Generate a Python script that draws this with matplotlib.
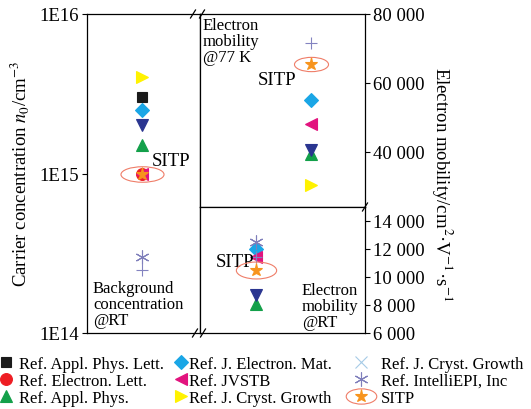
import numpy as np
import matplotlib
matplotlib.use('Agg')
import matplotlib.pyplot as plt
from matplotlib.path import Path
from matplotlib.lines import Line2D
from matplotlib.ticker import FuncFormatter, NullLocator

plt.rcParams['font.family'] = ['Liberation Serif', 'DejaVu Serif']
plt.rcParams['mathtext.fontset'] = 'stix'

nan = np.nan

# one entry per data source (the navy triangle has no legend entry in the source figure)
series_keys = ['apl_lett', 'el_lett', 'appl_phys', 'j_el_mat', 'jvstb',
               'jcg_a', 'jcg_b', 'intelliepi', 'unlisted', 'sitp']
series_labels = ['Ref. Appl. Phys. Lett.', 'Ref. Electron. Lett.', 'Ref. Appl. Phys.',
                 'Ref. J. Electron. Mat.', 'Ref. JVSTB', 'Ref. J. Cryst. Growth',
                 'Ref. J. Cryst. Growth', 'Ref. IntelliEPI, Inc', None, 'SITP']

# carrier concentration n0 (cm^-3), left panel
conc_n0 = [3.0e15, 1.0e15, 1.5e15, 2.5e15, 1.0e15, 4.0e15, 2.5e14, 3.0e14, 2.0e15, 1.0e15]
# electron mobility @77 K (cm^2/V/s), upper right panel
mob_77k = [nan, nan, 39300, 55000, 48000, 30500, 71500, nan, 40400, 65500]
# electron mobility @RT (cm^2/V/s), lower right panel
mob_rt = [nan, nan, 8100, 12000, 11400, nan, 11400, 12500, 8700, 10500]

conc_ticks = [1e14, 1e15, 1e16]
mob77_ticks = [40000, 60000, 80000]
mobrt_ticks = [6000, 8000, 10000, 12000, 14000]

# styles
markers = ['s', 'o', '^', 'D', '<', '>', '+', (6, 2, 0), 'v', '*']
colors = ['#1a1a1a', '#ee1d23', '#13a04a', '#1aa6e6', '#e2137e', '#fff200',
          '#8383c0', '#7f7fbb', '#2a3590', '#f7941d']
sizes = [7, 8.5, 9, 6.8, 9, 9, 8, 10, 9, 9.5]
ring_color = '#ef7d68'

W, H = 531, 410


def fx(px):
    return px / W


def fy(py):
    return 1 - py / H


def ellipse_marker(ratio):
    c = Path.unit_circle()
    return Path(c.vertices * np.array([1.0, ratio]), c.codes)


fig = plt.figure(figsize=(5.31, 4.10), dpi=100)
ax_l = fig.add_axes([fx(87), fy(334), fx(200) - fx(87), fy(15) - fy(334)])
ax_t = fig.add_axes([fx(200), fy(208), fx(365) - fx(200), fy(15) - fy(208)])
ax_b = fig.add_axes([fx(200), fy(334), fx(365) - fx(200), fy(208) - fy(334)])

x_l, x_t, x_b = 0.487, 0.673, 0.34

for i in range(len(series_keys)):
    kw = dict(marker=markers[i], color=colors[i], markersize=sizes[i],
              linestyle='none', markeredgewidth=0.8, zorder=3 + (i == 9))
    ax_l.plot([x_l], [conc_n0[i]], **kw)
    if not np.isnan(mob_77k[i]):
        ax_t.plot([x_t], [mob_77k[i]], **kw)
    if not np.isnan(mob_rt[i]):
        ax_b.plot([x_b], [mob_rt[i]], **kw)

# rings around the SITP points
ax_l.plot([x_l], [conc_n0[9]], marker=ellipse_marker(0.36), markersize=31,
          mfc='none', mec=ring_color, mew=0.8, linestyle='none', zorder=5)
ax_t.plot([x_t], [mob_77k[9]], marker=ellipse_marker(0.42), markersize=24.5,
          mfc='none', mec=ring_color, mew=0.8, linestyle='none', zorder=5)
ax_b.plot([x_b], [mob_rt[9]], marker=ellipse_marker(0.42), markersize=29,
          mfc='none', mec=ring_color, mew=0.8, linestyle='none', zorder=5)

fs = 13.5
ax_l.set_yscale('log')
ax_l.set_ylim(1e14, 1e16)
ax_l.set_yticks(conc_ticks)
ax_l.yaxis.set_minor_locator(NullLocator())
ax_l.yaxis.set_major_formatter(FuncFormatter(lambda v, p: '1E%d' % round(np.log10(v))))

ax_t.set_ylim(24000, 80000)
ax_t.set_yticks(mob77_ticks)
ax_b.set_ylim(6000, 15000)
ax_b.set_yticks(mobrt_ticks)
space_fmt = FuncFormatter(lambda v, p: '{:,.0f}'.format(v).replace(',', ' '))
for ax in (ax_t, ax_b):
    ax.yaxis.tick_right()
    ax.yaxis.set_major_formatter(space_fmt)

for ax in (ax_l, ax_t, ax_b):
    ax.set_xlim(0, 1)
    ax.set_xticks([])
    ax.tick_params(axis='y', labelsize=fs, length=3.5, width=0.8, pad=2)
    for s in ax.spines.values():
        s.set_linewidth(0.9)

# annotations
ax_l.text(0.748, 0.542, 'SITP', fontsize=fs, transform=ax_l.transAxes, ha='center', va='center')
ax_t.text(0.47, 0.663, 'SITP', fontsize=fs, transform=ax_t.transAxes, ha='center', va='center')
ax_b.text(0.212, 0.571, 'SITP', fontsize=fs, transform=ax_b.transAxes, ha='center', va='center')
ax_t.text(0.018, 0.985, 'Electron\nmobility\n@77 K', fontsize=12, linespacing=1.0,
          transform=ax_t.transAxes, ha='left', va='top')
ax_b.text(0.618, 0.02, 'Electron\nmobility\n@RT', fontsize=12, linespacing=1.0,
          transform=ax_b.transAxes, ha='left', va='bottom')
ax_l.text(0.053, 0.015, 'Background\nconcentration\n@RT', fontsize=12, linespacing=1.0,
          transform=ax_l.transAxes, ha='left', va='bottom')

fig.text(fx(20), fy(174), 'Carrier concentration $n_0$/cm$^{-3}$', fontsize=fs,
         rotation=90, ha='center', va='center')
fig.text(fx(443), fy(184), 'Electron mobility/cm$^{2}$·V$^{-1}$·s$^{-1}$', fontsize=fs,
         rotation=270, ha='center', va='center')

# axis break marks
for (bx, by) in [(193, 15), (202, 15), (195, 334), (203, 334), (365, 208)]:
    fig.add_artist(Line2D([fx(bx - 2.5), fx(bx + 2.5)], [fy(by + 4), fy(by - 4)],
                          color='black', lw=0.9, transform=fig.transFigure))

# legend: three columns
handles = []
for i in range(len(series_keys)):
    handles.append(Line2D([], [], marker=markers[i], color=colors[i], markersize=sizes[i],
                          linestyle='none', markeredgewidth=0.8))
handles[6] = Line2D([], [], marker='x', color='#a6cbe6', markersize=9,
                    linestyle='none', markeredgewidth=0.8)
ring = Line2D([], [], marker=ellipse_marker(0.5), markersize=22, mfc='none',
              mec=ring_color, mew=0.8, linestyle='none')
handles[9] = (ring, handles[9])

columns = [([0, 1, 2], 0, 0.72, 0.4),
           ([3, 4, 5], 176, 0.6, 0.2),
           ([6, 7, 9], 345, 1.9, 0.24)]
for idx, left, hl, pad in columns:
    leg = fig.legend([handles[i] for i in idx], [series_labels[i] for i in idx],
                     loc='upper left', bbox_to_anchor=(fx(left), fy(357)),
                     frameon=False, fontsize=12, borderpad=0, borderaxespad=0,
                     handlelength=hl, handletextpad=pad, labelspacing=0.05)

fig.savefig('out.png', dpi=100)
